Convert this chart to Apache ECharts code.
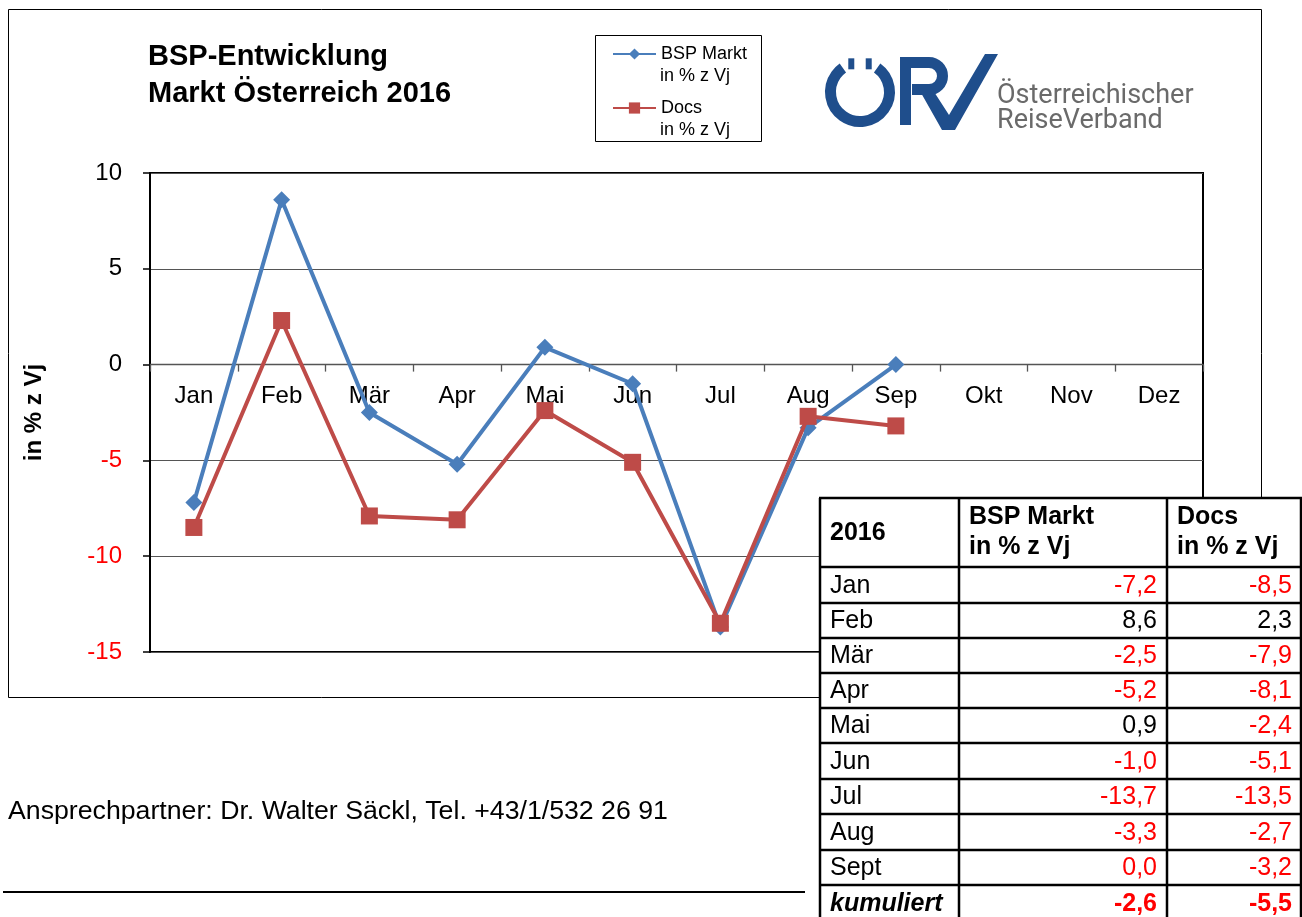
<!DOCTYPE html>
<html><head><meta charset="utf-8">
<script src="https://cdn.jsdelivr.net/npm/echarts@6/dist/echarts.min.js"></script>
<style>html,body{margin:0;padding:0;background:#fff}#c{width:1302px;height:917px}</style>
</head><body><div id="c"></div>
<script>
// ---- data ----
const months = ['Jan','Feb','Mär','Apr','Mai','Jun','Jul','Aug','Sep','Okt','Nov','Dez'];
const bspMarkt = [-7.2, 8.6, -2.5, -5.2, 0.9, -1.0, -13.7, -3.3, 0.0, null, null, null];
const docs = [-8.5, 2.3, -7.9, -8.1, -2.4, -5.1, -13.5, -2.7, -3.2, null, null, null];
const yTicks = [-15, -10, -5, 0, 5, 10];
const tableMonths = ['Jan','Feb','Mär','Apr','Mai','Jun','Jul','Aug','Sept'];
const cumulativeLabel = 'kumuliert';
const cumulativeValues = [-2.6, -5.5];
const seriesNames = ['BSP Markt', 'Docs'];
const seriesSub = 'in % z Vj';

const FONT = 'Liberation Sans, Arial, sans-serif';
const BLUE = '#4a7ebb', RED = '#be4b48';
const fmt = v => v.toFixed(1).replace('.', ',');

// plot geometry
const GRID = {left: 150, right: 99, top: 173, bottom: 265};
const plotH = 917 - GRID.top - GRID.bottom;
const yMin = yTicks[0], yMax = yTicks[yTicks.length - 1];
// offset the category axis so it sits on the zero line (labels travel with it)
const zeroOffset = -plotH * (0 - yMin) / (yMax - yMin);

const colX = [820, 959, 1167, 1301];
const rowY = [498, 567, 603, 638, 673, 708, 743, 779, 814, 850, 885, 921];
const g = [];
g.push({type:'rect', z:0, shape:{x:8.5, y:9.5, width:1253, height:688}, style:{fill:'none', stroke:'#000', lineWidth:1}});
g.push({type:'rect', z:0, shape:{x:595.5, y:35.5, width:166, height:106}, style:{fill:'#fff', stroke:'#000', lineWidth:1}});
g.push({type:'text', z:10, x:660, y:76, style:{text:seriesSub, fill:'#000', fontSize:18, fontFamily:FONT, verticalAlign:'middle'}});
g.push({type:'text', z:10, x:660, y:130, style:{text:seriesSub, fill:'#000', fontSize:18, fontFamily:FONT, verticalAlign:'middle'}});
// logo
const LOGO = '#1f4e8c';
const lcx = 860, lcy = 92, lr = 29.5;
g.push({type:'arc', z:5, shape:{cx:lcx, cy:lcy, r:lr, startAngle:-Math.PI/2+0.62, endAngle:Math.PI*1.5-0.62, clockwise:true}, style:{fill:'none', stroke:LOGO, lineWidth:11}});
[-0.3, 0.3].forEach(a => {
  g.push({type:'rect', z:5, shape:{x:lcx + lr*Math.sin(a) - 3, y:lcy - lr*Math.cos(a) - 5.5, width:6, height:11}, style:{fill:LOGO}});
});
g.push({type:'rect', z:5, shape:{x:900, y:57, width:11, height:68}, style:{fill:LOGO}});
g.push({type:'polyline', z:5, shape:{points:[[905,62.5],[929,62.5]]}, style:{fill:'none', stroke:LOGO, lineWidth:11}});
g.push({type:'polyline', z:5, shape:{points:[[929,89.5],[912,89.5]]}, style:{fill:'none', stroke:LOGO, lineWidth:11}});
g.push({type:'arc', z:5, shape:{cx:929, cy:76, r:13.5, startAngle:-Math.PI/2, endAngle:Math.PI/2, clockwise:true}, style:{fill:'none', stroke:LOGO, lineWidth:11}});
g.push({type:'polygon', z:5, shape:{points:[[916,84],[929,84],[949,115],[985,54],[998,54],[955,130],[942,130]]}, style:{fill:LOGO}});
g.push({type:'text', z:5, x:997, y:96, style:{text:'Österreichischer', fill:'#6a6a6a', fontSize:27, fontFamily:'Roboto, sans-serif', verticalAlign:'middle'}});
g.push({type:'text', z:5, x:997, y:121, style:{text:'ReiseVerband', fill:'#6a6a6a', fontSize:27, fontFamily:'Roboto, sans-serif', verticalAlign:'middle'}});
// footer
g.push({type:'text', z:5, x:8, y:812, style:{text:'Ansprechpartner: Dr. Walter Säckl, Tel. +43/1/532 26 91', fill:'#000', fontSize:26.7, fontFamily:FONT, verticalAlign:'middle'}});
g.push({type:'line', z:5, shape:{x1:3, y1:892, x2:805, y2:892}, style:{stroke:'#000', lineWidth:2}});
// table
g.push({type:'rect', z:100, shape:{x:colX[0], y:rowY[0], width:1302-colX[0], height:917-rowY[0]}, style:{fill:'#fff'}});
colX.forEach(x => g.push({type:'line', z:102, shape:{x1:x, y1:rowY[0], x2:x, y2:917}, style:{stroke:'#000', lineWidth:2.5}}));
rowY.forEach(y => g.push({type:'line', z:102, shape:{x1:colX[0]-1, y1:y, x2:colX[3]+1, y2:y}, style:{stroke:'#000', lineWidth:2.5}}));
const txt = (t, x, y, o) => g.push({type:'text', z:103, x, y, style:Object.assign({text:t, fill:'#000', fontSize:25, fontFamily:FONT, verticalAlign:'middle'}, o||{})});
txt('2016', 830, 533, {fontWeight:'bold'});
txt(seriesNames[0], 969, 517, {fontWeight:'bold'});
txt(seriesSub, 969, 547, {fontWeight:'bold'});
txt(seriesNames[1], 1177, 517, {fontWeight:'bold'});
txt(seriesSub, 1177, 547, {fontWeight:'bold'});
const valColor = v => v <= 0 ? '#ff0000' : '#000';
tableMonths.forEach((m, i) => {
  const cy = (rowY[i+1] + rowY[i+2]) / 2 + 1;
  txt(m, 830, cy);
  txt(fmt(bspMarkt[i]), 1157, cy, {align:'right', fill:valColor(bspMarkt[i])});
  txt(fmt(docs[i]), 1292, cy, {align:'right', fill:valColor(docs[i])});
});
{
  const cy = (rowY[10] + rowY[11]) / 2 + 1;
  txt(cumulativeLabel, 830, cy, {fontWeight:'bold', fontStyle:'italic'});
  txt(fmt(cumulativeValues[0]), 1157, cy, {align:'right', fontWeight:'bold', fill:valColor(cumulativeValues[0])});
  txt(fmt(cumulativeValues[1]), 1292, cy, {align:'right', fontWeight:'bold', fill:valColor(cumulativeValues[1])});
}

const chart = echarts.init(document.getElementById('c'), null, {renderer:'canvas'});
chart.setOption({
  animation: false,
  backgroundColor: '#fff',
  textStyle: {fontFamily: FONT},
  title: {
    text: 'BSP-Entwicklung\nMarkt Österreich 2016',
    left: 148, top: 38, padding: 0,
    textStyle: {fontSize: 29, fontWeight: 'bold', color: '#000', lineHeight: 37, fontFamily: FONT}
  },
  legend: {
    data: seriesNames,
    orient: 'vertical', left: 612, top: 44, padding: 0,
    itemWidth: 43, itemHeight: 14, itemGap: 34,
    textStyle: {fontSize: 18, lineHeight: 20, color: '#000', fontFamily: FONT},
    selectedMode: false
  },
  grid: Object.assign({show: true, borderColor: '#000', borderWidth: 2, backgroundColor: 'transparent'}, GRID),
  xAxis: {
    type: 'category', data: months, boundaryGap: true, offset: zeroOffset,
    axisLine: {onZero: false, lineStyle: {color: '#555', width: 1.3}},
    axisTick: {show: true, length: 7, lineStyle: {color: '#555', width: 1.3}},
    axisLabel: {fontSize: 24, color: '#000', margin: 20, interval: 0, fontFamily: FONT},
    splitLine: {show: false}
  },
  yAxis: {
    type: 'value', min: yMin, max: yMax, interval: 5,
    name: 'in % z Vj', nameLocation: 'middle', nameRotate: 90, nameGap: 104,
    nameTextStyle: {fontSize: 24, fontWeight: 'bold', color: '#000', fontFamily: FONT},
    axisLine: {show: true, lineStyle: {color: '#000', width: 2}},
    axisTick: {show: true, length: 7, lineStyle: {color: '#000', width: 1.5}},
    axisLabel: {fontSize: 24, margin: 28, fontFamily: FONT, color: v => (Number(v) < 0 ? '#ff0000' : '#000')},
    splitLine: {show: true, lineStyle: {color: '#555', width: 1.2}}
  },
  series: [
    {name: seriesNames[0], type: 'line', data: bspMarkt, symbol: 'diamond', symbolSize: 17,
     lineStyle: {color: BLUE, width: 4}, itemStyle: {color: BLUE}, connectNulls: false, z: 3},
    {name: seriesNames[1], type: 'line', data: docs, symbol: 'rect', symbolSize: 17,
     lineStyle: {color: RED, width: 4}, itemStyle: {color: RED}, connectNulls: false, z: 4}
  ],
  graphic: {elements: g}
});
</script>
</body></html>
